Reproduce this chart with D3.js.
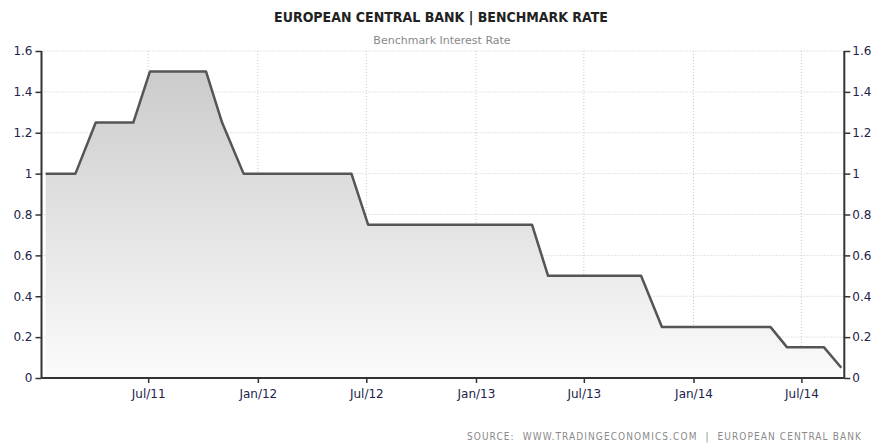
<!DOCTYPE html>
<html>
<head>
<meta charset="utf-8">
<script src="https://cdn.jsdelivr.net/npm/d3@7"></script>
<style>
  body { margin: 0; background: #fff; }
  svg { display: block; }
</style>
</head>
<body>
<div id="chart"></div>
<script>
const globalWidth = 877;
const globalHeight = 444;

// ECB benchmark rate, points where the line bends
const dates = ["2011-01-10", "2011-03-01", "2011-04-04", "2011-06-06", "2011-07-04",
  "2011-10-06", "2011-11-02", "2011-12-08", "2012-06-06", "2012-07-04",
  "2013-04-05", "2013-05-02", "2013-10-05", "2013-11-09", "2014-05-10",
  "2014-06-07", "2014-08-08", "2014-09-06"];
const rates = [1, 1, 1.25, 1.25, 1.5,
  1.5, 1.25, 1, 1, 0.75,
  0.75, 0.5, 0.5, 0.25, 0.25,
  0.15, 0.15, 0.05];

const xTickDates = ["2011-07-01", "2012-01-01", "2012-07-01", "2013-01-01", "2013-07-01", "2014-01-01", "2014-07-01"];
const yTicks = [0, 0.2, 0.4, 0.6, 0.8, 1, 1.2, 1.4, 1.6];

const titleText = "EUROPEAN CENTRAL BANK | BENCHMARK RATE";
const subtitleText = "Benchmark Interest Rate";
const sourceText = "SOURCE:  WWW.TRADINGECONOMICS.COM  |  EUROPEAN CENTRAL BANK";

var parse = d3.timeParse("%Y-%m-%d");
var data = dates.map(function(d, i) { return {date: parse(d), value: rates[i]}; });

// plot box (window.top is reserved, so prefix these)
var plotLeft = 41.5, plotRight = 844.3, plotTop = 51, plotBottom = 378;

var svg = d3.select("#chart")
  .append("svg")
  .attr("width", globalWidth)
  .attr("height", globalHeight);

var x = d3.scaleTime()
  .domain([parse("2011-01-03"), parse("2014-09-11")])
  .range([plotLeft, plotRight]);

var y = d3.scaleLinear()
  .domain([0, 1.6])
  .range([plotBottom, plotTop]);

// gradient for the area
var grad = svg.append("defs").append("linearGradient")
  .attr("id", "areaFill")
  .attr("gradientUnits", "userSpaceOnUse")
  .attr("x1", 0).attr("x2", 0)
  .attr("y1", y(1.6)).attr("y2", y(0));
grad.append("stop").attr("offset", "0%").attr("stop-color", "#c8c8c8");
grad.append("stop").attr("offset", "100%").attr("stop-color", "#fbfbfb");

// grid lines
svg.append("g")
  .selectAll("line")
  .data(yTicks.filter(function(d) { return d > 0; }))
  .enter().append("line")
    .attr("x1", plotLeft).attr("x2", plotRight)
    .attr("y1", function(d) { return y(d); })
    .attr("y2", function(d) { return y(d); })
    .attr("stroke", "#c8c8c8")
    .attr("stroke-dasharray", "1,2");

svg.append("g")
  .selectAll("line")
  .data(xTickDates.map(parse))
  .enter().append("line")
    .attr("x1", function(d) { return x(d); })
    .attr("x2", function(d) { return x(d); })
    .attr("y1", plotTop).attr("y2", plotBottom)
    .attr("stroke", "#c8c8c8")
    .attr("stroke-dasharray", "1,2");

// area + line
var area = d3.area()
  .x(function(d) { return x(d.date); })
  .y0(y(0))
  .y1(function(d) { return y(d.value); });

svg.append("path")
  .datum(data)
  .attr("d", area)
  .attr("fill", "url(#areaFill)");

var line = d3.line()
  .x(function(d) { return x(d.date); })
  .y(function(d) { return y(d.value); });

svg.append("path")
  .datum(data)
  .attr("d", line)
  .attr("fill", "none")
  .attr("stroke", "#555")
  .attr("stroke-width", 2.5)
  .attr("stroke-linejoin", "round");

// axes
var tickFont = "'DejaVu Sans', Verdana, sans-serif";
var tickColor = "#23234a";

var yLeft = svg.append("g")
  .attr("transform", "translate(" + plotLeft + ",0)")
  .call(d3.axisLeft(y).tickValues(yTicks).tickSize(6).tickPadding(3)
    .tickFormat(function(d) { return d3.format("~g")(d); }));

var yRight = svg.append("g")
  .attr("transform", "translate(" + plotRight + ",0)")
  .call(d3.axisRight(y).tickValues(yTicks).tickSize(6).tickPadding(2)
    .tickFormat(function(d) { return d3.format("~g")(d); }));

var xAxis = svg.append("g")
  .attr("transform", "translate(0," + plotBottom + ")")
  .call(d3.axisBottom(x).tickValues(xTickDates.map(parse)).tickSize(5).tickPadding(6)
    .tickFormat(d3.timeFormat("%b/%y")));

[yLeft, yRight, xAxis].forEach(function(g) {
  g.select(".domain").attr("stroke", "#333").attr("stroke-width", 2);
  g.selectAll(".tick line").attr("stroke", "#333").attr("stroke-width", 1.5);
  g.selectAll(".tick text")
    .attr("fill", tickColor)
    .style("font-family", tickFont)
    .style("font-size", "12px");
});
// domain paths include the outer ticks; flatten them
yLeft.select(".domain").attr("d", "M0," + plotTop + "V" + plotBottom);
yRight.select(".domain").attr("d", "M0," + plotTop + "V" + plotBottom);
xAxis.select(".domain").attr("d", "M" + plotLeft + ",0H" + plotRight);

// titles
svg.append("text")
  .attr("x", 441)
  .attr("y", 22)
  .attr("text-anchor", "middle")
  .style("font-family", "'DejaVu Sans Condensed', 'DejaVu Sans', sans-serif")
  .style("font-stretch", "condensed")
  .style("font-weight", "bold")
  .style("font-size", "14px")
  .attr("fill", "#222")
  .text(titleText);

svg.append("text")
  .attr("x", 442)
  .attr("y", 44)
  .attr("text-anchor", "middle")
  .style("font-family", "'DejaVu Sans', sans-serif")
  .style("font-size", "11px")
  .attr("fill", "#888")
  .text(subtitleText);

svg.append("text")
  .attr("x", 862)
  .attr("y", 440)
  .attr("text-anchor", "end")
  .style("font-family", "'DejaVu Sans Condensed', 'DejaVu Sans', sans-serif")
  .style("font-stretch", "condensed")
  .style("font-size", "10px")
  .style("letter-spacing", "1.1px")
  .style("white-space", "pre")
  .attr("fill", "#8a8a8a")
  .text(sourceText);
</script>
</body>
</html>
